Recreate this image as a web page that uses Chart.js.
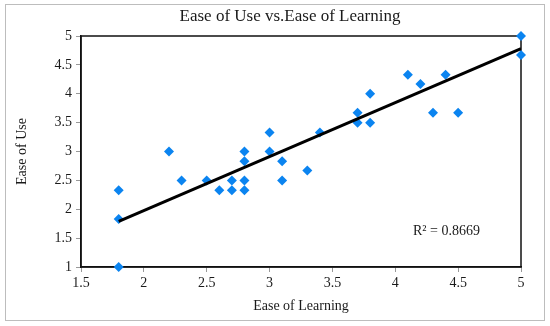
<!DOCTYPE html>
<html>
<head>
<meta charset="utf-8">
<script src="https://cdn.jsdelivr.net/npm/chart.js@4"></script>
<style>
  html, body { margin: 0; padding: 0; background: #fff; }
  #wrap { width: 550px; height: 326px; }
</style>
</head>
<body>
<div id="wrap"><canvas id="chart" width="550" height="326"></canvas></div>
<script>
// survey answers, one point per respondent
const learning = [1.8, 1.8, 1.8, 2.2, 2.3, 2.5, 2.6, 2.7, 2.7, 2.8, 2.8, 2.8, 2.8, 3.0, 3.0,
                  3.1, 3.1, 3.3, 3.4, 3.7, 3.7, 3.8, 3.8, 4.1, 4.2, 4.3, 4.4, 4.5, 5.0, 5.0];
const use = [2.33, 1.83, 1.0, 3.0, 2.5, 2.5, 2.33, 2.5, 2.33, 3.0, 2.83, 2.5, 2.33, 3.33, 3.0,
             2.83, 2.5, 2.67, 3.33, 3.67, 3.5, 4.0, 3.5, 4.33, 4.17, 3.67, 4.33, 3.67, 5.0, 4.67];

// linear trendline as shown on the chart
const trendX = [1.8, 5.0];
const trendY = [1.79, 4.78];
const rSquared = '0.8669';

const serif = 'Liberation Serif';

const frame = {
    id: 'frame',
    beforeDraw(chart) {
        const ctx = chart.ctx;
        ctx.save();
        ctx.strokeStyle = '#bdbdbd';
        ctx.lineWidth = 1;
        ctx.strokeRect(5.5, 4.5, 539, 316);
        ctx.restore();
    },
    beforeDatasetsDraw(chart) {
        const ctx = chart.ctx;
        const a = chart.chartArea;
        ctx.save();
        ctx.strokeStyle = '#111';
        ctx.lineWidth = 1.5;
        ctx.strokeRect(a.left, a.top, a.right - a.left, a.bottom - a.top);
        ctx.restore();
    },
    afterDraw(chart) {
        const ctx = chart.ctx;
        ctx.save();
        ctx.fillStyle = '#1a1a1a';
        ctx.font = '17px "' + serif + '"';
        ctx.textAlign = 'center';
        ctx.textBaseline = 'middle';
        ctx.fillText('Ease of Use vs.Ease of Learning', 290, 17);

        ctx.font = '14px "' + serif + '"';
        ctx.textAlign = 'left';
        ctx.fillText('R\u00B2 = ' + rSquared, 413, 231);
        ctx.restore();
    }
};

const points = learning.map((x, i) => ({ x: x, y: use[i] }));
const trend = trendX.map((x, i) => ({ x: x, y: trendY[i] }));

new Chart(document.getElementById('chart'), {
    type: 'scatter',
    data: {
        datasets: [{
            label: 'Ease of Use',
            data: points,
            pointStyle: 'rectRot',
            pointRadius: 5,
            backgroundColor: '#0b84f0',
            borderColor: '#0b84f0',
            borderWidth: 0,
            clip: false,
            order: 2
        }, {
            label: 'Trend',
            type: 'line',
            data: trend,
            borderColor: '#000',
            borderWidth: 3,
            pointRadius: 0,
            fill: false,
            order: 1
        }]
    },
    options: {
        responsive: false,
        animation: false,
        layout: { padding: { left: 6, right: 29, top: 36, bottom: 6 } },
        plugins: {
            legend: { display: false },
            title: { display: false },
            tooltip: { enabled: false }
        },
        scales: {
            x: {
                type: 'linear',
                min: 1.5,
                max: 5,
                afterFit: s => { s.height = 53; },
                ticks: {
                    stepSize: 0.5,
                    callback: v => String(v),
                    color: '#1a1a1a',
                    font: { family: serif, size: 14 },
                    padding: 3
                },
                grid: { drawOnChartArea: false, drawTicks: true, tickLength: 5, color: '#999' },
                border: { color: '#111', width: 1.5 },
                title: {
                    display: true,
                    text: 'Ease of Learning',
                    color: '#1a1a1a',
                    font: { family: serif, size: 14 },
                    padding: { top: 2, bottom: 5 }
                }
            },
            y: {
                min: 1,
                max: 5,
                afterFit: s => { s.width = 75; },
                ticks: {
                    stepSize: 0.5,
                    callback: v => String(v),
                    color: '#1a1a1a',
                    font: { family: serif, size: 14 },
                    padding: 4
                },
                grid: { drawOnChartArea: false, drawTicks: true, tickLength: 5, color: '#999' },
                border: { color: '#111', width: 1.5 },
                title: {
                    display: true,
                    text: 'Ease of Use',
                    color: '#1a1a1a',
                    font: { family: serif, size: 14 },
                    padding: { top: 8, bottom: 2 }
                }
            }
        }
    },
    plugins: [frame]
});
</script>
</body>
</html>
